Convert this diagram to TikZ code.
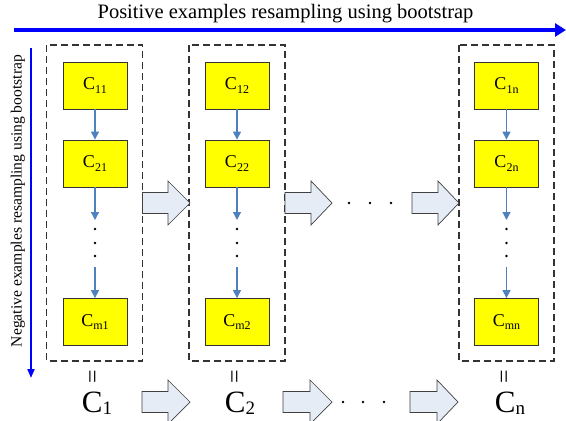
\documentclass[tikz,border=0pt]{standalone}
\usepackage{fontspec}
\setmainfont{Liberation Serif}
\usetikzlibrary{arrows.meta}
\definecolor{mainblue}{RGB}{0,0,255}
\definecolor{smallblue}{RGB}{79,129,189}
\definecolor{arrfill}{RGB}{230,236,246}
\definecolor{ybox}{RGB}{255,255,0}
\newcommand{\Cs}[1]{{\fontsize{18}{18}\selectfont C}\raisebox{-3.5pt}{\fontsize{12}{12}\selectfont #1}}
\newcommand{\Cb}[1]{{\fontsize{31}{31}\selectfont C}\raisebox{-2.5pt}{\fontsize{19}{19}\selectfont #1}}
\newcommand{\blockarr}[4]{%
  \draw[blk] (#1,#4-10.5) -- (#2,#4-10.5) -- (#2,#4-22) -- (#3,#4) -- (#2,#4+22) -- (#2,#4+10.5) -- (#1,#4+10.5) -- cycle;}
\begin{document}
\begin{tikzpicture}[x=1pt,y=-1pt,
  cell/.style={draw=black!80, fill=ybox, line width=0.8pt, minimum width=64pt, minimum height=47pt, inner sep=0pt},
  group/.style={draw=black!80, line width=1.1pt, dash pattern=on 7pt off 4pt},
  link/.style={draw=smallblue, line width=1.2pt, -{Triangle[length=8pt,width=8pt]}},
  blk/.style={draw=black!75, fill=arrfill, line width=0.7pt},
  dot/.style={circle, fill=black, inner sep=0pt, minimum size=2.6pt},
  eqs/.style={rotate=90, font=\fontsize{24}{24}\selectfont, inner sep=0pt},
]
\useasboundingbox (0,0) rectangle (566,421);

% axes
\node[font=\fontsize{20.5}{20.5}\selectfont] (ttl) at (285.5,14) {Positive examples resampling using bootstrap};
\draw[mainblue, line width=3.5pt, -{Triangle[length=11pt,width=13pt]}] (14,30) coordinate (ta) -- (566,30) coordinate (tb);
\node[rotate=90, font=\fontsize{15.6}{15.6}\selectfont] (ltl) at (18,201) {Negative examples resampling using bootstrap};
\draw[mainblue, line width=2pt, -{Triangle[length=9pt,width=7pt]}] (31,48) coordinate (la) -- (31,378) coordinate (lb);

% dashed groups
\draw[group] (46.5,45) rectangle (142.5,361);
\draw[group] (189,45) rectangle (285,361);
\draw[group] (459,45) rectangle (554,361);

% column 1
\node[cell] (c11) at (95,85.5) {\Cs{11}};
\node[cell] (c21) at (95,163.5) {\Cs{21}};
\node[cell] (cm1) at (95,322) {\Cs{m1}};
% column 2
\node[cell] (c12) at (237,85.5) {\Cs{12}};
\node[cell] (c22) at (237,163.5) {\Cs{22}};
\node[cell] (cm2) at (237,322) {\Cs{m2}};
% column n
\node[cell] (c1n) at (506.5,85.5) {\Cs{1n}};
\node[cell] (c2n) at (506.5,163.5) {\Cs{2n}};
\node[cell] (cmn) at (506.5,322) {\Cs{mn}};

\foreach \c/\x in {1/95, 2/237, n/506.5}{
  \coordinate (e\c) at (\x,220);
  \coordinate (s\c) at (\x,267);
  \node[dot] (da\c) at (\x,229) {};
  \node[dot] (db\c) at (\x,243) {};
  \node[dot] (dc\c) at (\x,256) {};
  \node[eqs] (q\c) at (\x,377) {=};
}
\draw[link] (c11) -- (c21);
\draw[link] (c21) -- (e1);
\draw[link] (s1) -- (cm1);
\draw[link] (c12) -- (c22);
\draw[link] (c22) -- (e2);
\draw[link] (s2) -- (cm2);
\draw[link] (c1n) -- (c2n);
\draw[link] (c2n) -- (en);
\draw[link] (sn) -- (cmn);

% block arrows, middle row
\blockarr{142.5}{168}{190}{203}
\blockarr{285}{311}{332}{203}
\blockarr{412}{438}{459}{203}
\node[dot] (m1) at (349,203) {};
\node[dot] (m2) at (370,203) {};
\node[dot] (m3) at (391,203) {};

% bottom row
\node[anchor=base, inner sep=0pt] (C1) at (97,412) {\Cb{1}};
\node[anchor=base, inner sep=0pt] (C2) at (240,412) {\Cb{2}};
\node[anchor=base, inner sep=0pt] (Cn) at (510,412) {\Cb{n}};
\blockarr{142}{168}{190}{402}
\blockarr{283}{310}{332}{402}
\blockarr{410}{437}{458}{402}
\node[dot] (b1) at (343,402) {};
\node[dot] (b2) at (363,402) {};
\node[dot] (b3) at (384,402) {};
\end{tikzpicture}
\end{document}
